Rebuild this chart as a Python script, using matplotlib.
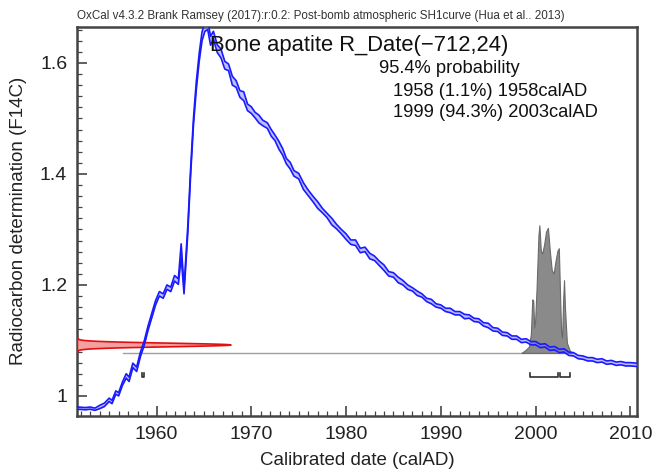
import numpy as np
import matplotlib
matplotlib.use("Agg")
import matplotlib.pyplot as plt
from matplotlib.ticker import MultipleLocator, FixedLocator

plt.rcParams['font.family'] = ['Liberation Sans', 'DejaVu Sans']

# Calibration curve (SH1 post-bomb)
years = [1951.6, 1952.5, 1953.0, 1953.5, 1954.0, 1954.5, 1955.0, 1955.3, 1955.7, 1956.0,
         1956.4, 1956.8, 1957.1, 1957.5, 1957.9, 1958.3, 1958.7, 1959.1, 1959.5, 1959.9,
         1960.3, 1960.7, 1961.1, 1961.5, 1961.9, 1962.3, 1962.6, 1962.9, 1963.3, 1963.6,
         1963.9, 1964.2, 1964.5, 1964.8, 1965.1, 1965.4, 1965.7, 1966.0, 1966.4, 1966.8,
         1967.2, 1967.6, 1968.0, 1968.4, 1968.8, 1969.2, 1969.6, 1970.0, 1970.4, 1970.8,
         1971.2, 1971.7, 1972.1, 1972.5, 1972.9, 1973.3, 1973.7, 1974.1, 1974.5, 1975.0,
         1975.5, 1976.0, 1976.5, 1977.0, 1977.5, 1978.0, 1978.5, 1979.0, 1979.5, 1980.0,
         1980.5, 1981.0, 1981.5, 1982.0, 1982.5, 1983.0, 1983.5, 1984.0, 1984.5, 1985.0,
         1985.5, 1986.0, 1986.5, 1987.0, 1987.5, 1988.0, 1988.5, 1989.0, 1989.5, 1990.0,
         1990.5, 1991.0, 1991.5, 1992.0, 1992.5, 1993.0, 1993.5, 1994.0, 1994.5, 1995.0,
         1995.5, 1996.0, 1996.5, 1997.0, 1997.5, 1998.0, 1998.5, 1999.0, 1999.5, 2000.0,
         2000.5, 2001.0, 2001.5, 2002.0, 2002.5, 2003.0, 2003.5, 2004.0, 2004.5, 2005.0,
         2005.5, 2006.0, 2006.5, 2007.0, 2007.5, 2008.0, 2008.5, 2009.0, 2009.5, 2010.0,
         2010.7]
f14c = [0.978, 0.977, 0.978, 0.976, 0.980, 0.984, 0.993, 0.989, 1.006, 1.003,
        1.022, 1.036, 1.030, 1.055, 1.048, 1.075, 1.095, 1.122, 1.145, 1.168,
        1.184, 1.180, 1.196, 1.192, 1.212, 1.206, 1.262, 1.190, 1.300, 1.405,
        1.495, 1.560, 1.610, 1.648, 1.665, 1.668, 1.640, 1.650, 1.626, 1.617,
        1.596, 1.592, 1.568, 1.562, 1.544, 1.540, 1.520, 1.515, 1.506, 1.499,
        1.492, 1.487, 1.474, 1.465, 1.452, 1.440, 1.423, 1.415, 1.401, 1.396,
        1.378, 1.366, 1.355, 1.344, 1.334, 1.325, 1.314, 1.305, 1.296, 1.287,
        1.277, 1.276, 1.262, 1.264, 1.252, 1.248, 1.239, 1.231, 1.220, 1.218,
        1.209, 1.204, 1.196, 1.192, 1.185, 1.181, 1.173, 1.170, 1.163, 1.161,
        1.155, 1.154, 1.149, 1.149, 1.143, 1.143, 1.137, 1.136, 1.129, 1.127,
        1.120, 1.119, 1.112, 1.111, 1.105, 1.105, 1.099, 1.100, 1.095, 1.095,
        1.090, 1.091, 1.085, 1.086, 1.081, 1.082, 1.076, 1.075, 1.070, 1.069,
        1.066, 1.066, 1.063, 1.064, 1.060, 1.061, 1.058, 1.059, 1.057, 1.057,
        1.056]
sigma = [0.002, 0.002, 0.002, 0.002, 0.003, 0.003, 0.003, 0.003, 0.003, 0.003,
         0.003, 0.004, 0.004, 0.004, 0.004, 0.004, 0.004, 0.004, 0.004, 0.004,
         0.004, 0.004, 0.004, 0.004, 0.005, 0.005, 0.012, 0.006, 0.006, 0.006,
         0.006, 0.007, 0.007, 0.008, 0.008, 0.008, 0.008, 0.007, 0.007, 0.008,
         0.007, 0.006, 0.008, 0.006, 0.006, 0.008, 0.006, 0.006, 0.005, 0.007,
         0.005, 0.005, 0.006, 0.005, 0.007, 0.006, 0.005, 0.006, 0.005, 0.005,
         0.006, 0.005, 0.005, 0.006, 0.004, 0.004, 0.006, 0.004, 0.004, 0.005,
         0.004, 0.005, 0.004, 0.004, 0.005, 0.004, 0.004, 0.005, 0.004, 0.004,
         0.005, 0.004, 0.004, 0.003, 0.004, 0.003, 0.003, 0.004, 0.003, 0.003,
         0.003, 0.004, 0.003, 0.003, 0.004, 0.003, 0.003, 0.003, 0.003, 0.004,
         0.003, 0.003, 0.003, 0.003, 0.003, 0.003, 0.003, 0.003, 0.003, 0.003,
         0.003, 0.003, 0.003, 0.003, 0.003, 0.003, 0.003, 0.003, 0.003, 0.003,
         0.003, 0.003, 0.003, 0.003, 0.003, 0.003, 0.003, 0.003, 0.003, 0.003,
         0.003]

# Radiocarbon date R_Date(-712,24)
r_age = -712
r_err = 24

# Calibrated distribution (relative probability)
post_years = [1998.5, 1998.9, 1999.3, 1999.5, 1999.65, 1999.75, 1999.85, 1999.95, 2000.1, 2000.3,
              2000.4, 2000.55, 2000.7, 2000.9, 2001.1, 2001.3, 2001.5, 2001.7, 2001.9, 2002.1,
              2002.3, 2002.45, 2002.6, 2002.7, 2002.8, 2002.9, 2003.0, 2003.1, 2003.3, 2003.6,
              2003.8]
post_prob = [0.0, 0.02, 0.05, 0.15, 0.42, 0.41, 0.20, 0.25, 0.50, 0.92,
             1.00, 0.80, 0.78, 0.85, 0.95, 0.98, 0.80, 0.65, 0.62, 0.72,
             0.80, 0.82, 0.40, 0.15, 0.12, 0.40, 0.57, 0.35, 0.08, 0.02,
             0.0]
baseline_span = [1956.5, 2003.8]

# 95.4% ranges
ranges = [(1958.5, 1958.7), (1999.4, 2002.4), (2002.6, 2003.6)]

xlim = (1951.6, 2010.7)
ylim = (0.964, 1.665)

fig = plt.figure(figsize=(6.52, 4.71), dpi=100)
ax = fig.add_axes([0.118, 0.117, 0.859, 0.826])

yrs = np.array(years)
mu = np.array(f14c)
sg = np.array(sigma)

# baseline of calibrated distribution
base = 1.0775
scale_h = 0.23
ax.plot(baseline_span, [base, base], color='#a0a0a0', lw=1, zorder=1)
ax.fill_between(np.array(post_years), base, base + np.array(post_prob) * scale_h,
                color='#8a8a8a', edgecolor='#6a6a6a', lw=0.8, zorder=2)

# measurement distribution
f_mean = np.exp(-r_age / 8033.0)
f_sd = f_mean * r_err / 8033.0
fy = np.linspace(f_mean - 4 * f_sd, f_mean + 4 * f_sd, 200)
dens = np.exp(-0.5 * ((fy - f_mean) / f_sd) ** 2)
ax.fill_betweenx(fy, xlim[0], xlim[0] + dens * 16.2,
                 color='#f5a0a0', edgecolor='#e01010', lw=1.2, zorder=3)

# calibration curve
ax.fill_between(yrs, mu - sg, mu + sg, color='#7070ff', alpha=0.45, lw=0, zorder=4)
ax.plot(yrs, mu + sg, color='#1a1aff', lw=1.2, zorder=5)
ax.plot(yrs, mu - sg, color='#1a1aff', lw=1.2, zorder=5)

# range bars
rb = 1.034
for a, b in ranges:
    ax.plot([a, a, b, b], [rb + 0.008, rb, rb, rb + 0.008], color='#303030', lw=1.2, zorder=3)

ax.set_xlim(*xlim)
ax.set_ylim(*ylim)

ax.xaxis.set_major_locator(MultipleLocator(10))
ax.xaxis.set_minor_locator(MultipleLocator(1))
ax.yaxis.set_major_locator(FixedLocator([1.0, 1.2, 1.4, 1.6]))
ax.set_yticklabels(['1', '1.2', '1.4', '1.6'])
ax.yaxis.set_minor_locator(MultipleLocator(0.02))
ax.tick_params(which='both', direction='in', color='#444444', top=False, right=False,
               labelsize=14, labelcolor='#222222', pad=7)
ax.tick_params(which='major', length=7, width=1.2)
ax.tick_params(which='minor', length=3.5, width=0.9)
for s in ax.spines.values():
    s.set_color('#444444')
    s.set_linewidth(1.8)

ax.set_xlabel('Calibrated date (calAD)', fontsize=13.5, color='#222222', labelpad=7)
ax.set_ylabel('Radiocarbon determination (F14C)', fontsize=13.5, color='#222222', labelpad=9)

fig.text(0.118, 0.96, 'OxCal v4.3.2 Brank Ramsey (2017):r:0.2: Post-bomb atmospheric SH1curve (Hua et al.. 2013)',
         fontsize=8.4, color='#333333', ha='left', va='baseline')

ax.text(0.2375, 0.938, 'Bone apatite R_Date(\u2212712,24)', transform=ax.transAxes,
        fontsize=15.8, color='#111111', va='baseline', zorder=6)
ax.text(0.539, 0.882, '95.4% probability', transform=ax.transAxes,
        fontsize=13.2, color='#111111', va='baseline')
ax.text(0.564, 0.823, '1958 (1.1%) 1958calAD', transform=ax.transAxes,
        fontsize=13.2, color='#111111', va='baseline')
ax.text(0.564, 0.769, '1999 (94.3%) 2003calAD', transform=ax.transAxes,
        fontsize=13.2, color='#111111', va='baseline')

fig.savefig('out.png', dpi=100)
